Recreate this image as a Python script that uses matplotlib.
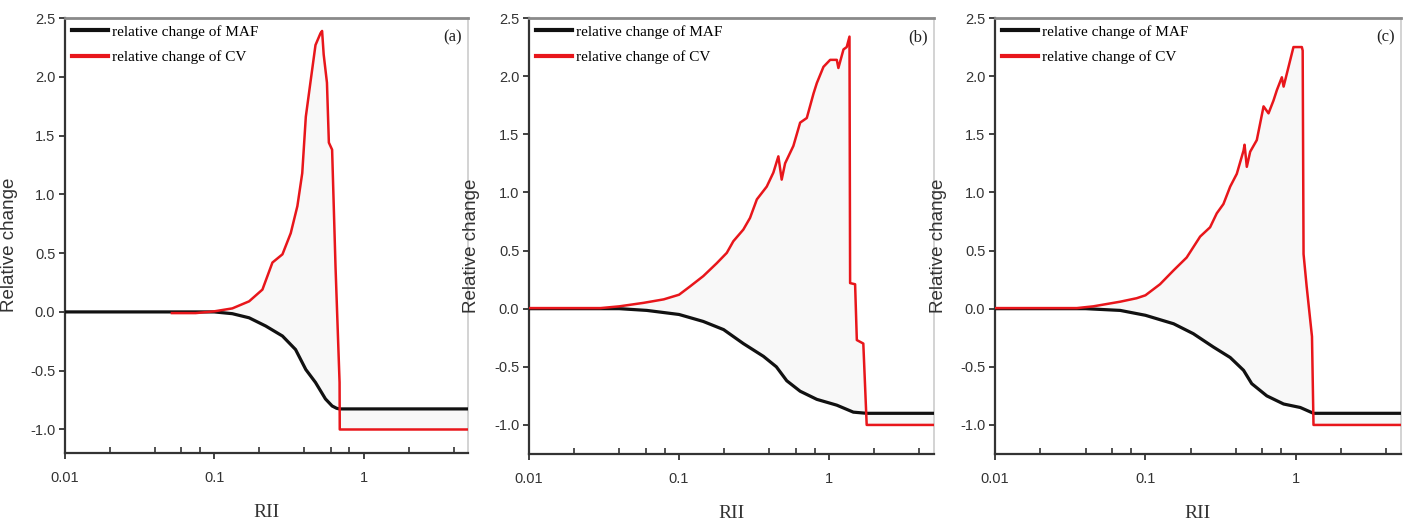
import matplotlib
matplotlib.use("Agg")
import matplotlib.pyplot as plt
from matplotlib.ticker import LogLocator, NullFormatter

# ---------------- data ----------------
panel_labels = ["(a)", "(b)", "(c)"]
series_names = ["relative change of MAF", "relative change of CV"]
x_tick_values = [0.01, 0.1, 1]
x_tick_labels = ["0.01", "0.1", "1"]
y_tick_values = [-1.0, -0.5, 0.0, 0.5, 1.0, 1.5, 2.0, 2.5]
y_tick_labels = ["-1.0", "-0.5", "0.0", "0.5", "1.0", "1.5", "2.0", "2.5"]

# panel (a)
a_maf_x = [0.01, 0.1, 0.132, 0.171, 0.221, 0.286, 0.35, 0.41, 0.476, 0.555, 0.615, 0.66, 0.69, 5.0]
a_maf_y = [0.0, 0.0, -0.015, -0.05, -0.12, -0.205, -0.32, -0.49, -0.60, -0.74, -0.80, -0.82, -0.825, -0.825]
a_cv_x = [0.052, 0.075, 0.1, 0.132, 0.171, 0.21, 0.245, 0.286, 0.325, 0.36, 0.388, 0.41, 0.44,
          0.476, 0.514, 0.527, 0.54, 0.568, 0.585, 0.615, 0.648, 0.69, 0.692, 5.0]
a_cv_y = [-0.01, -0.01, 0.005, 0.03, 0.09, 0.19, 0.42, 0.49, 0.67, 0.90, 1.18, 1.66, 1.95,
          2.27, 2.37, 2.39, 2.19, 1.95, 1.44, 1.38, 0.39, -0.60, -1.0, -1.0]

# panel (b)
b_maf_x = [0.01, 0.04, 0.061, 0.1, 0.145, 0.198, 0.268, 0.365, 0.445, 0.522, 0.641, 0.828,
           1.125, 1.45, 1.78, 5.0]
b_maf_y = [0.0, 0.0, -0.015, -0.05, -0.11, -0.18, -0.30, -0.41, -0.50, -0.62, -0.71, -0.78,
           -0.83, -0.89, -0.90, -0.90]
b_cv_x = [0.01, 0.03, 0.04, 0.058, 0.079, 0.1, 0.118, 0.145, 0.178, 0.208, 0.23, 0.268, 0.297,
          0.33, 0.384, 0.425, 0.459, 0.483, 0.509, 0.578, 0.641, 0.71, 0.787, 0.828, 0.917,
          1.016, 1.125, 1.153, 1.247, 1.31, 1.367, 1.38, 1.49, 1.53, 1.69, 1.78, 5.0]
b_cv_y = [0.005, 0.005, 0.02, 0.05, 0.08, 0.12, 0.19, 0.28, 0.39, 0.48, 0.58, 0.68, 0.78,
          0.94, 1.05, 1.17, 1.31, 1.11, 1.25, 1.40, 1.60, 1.64, 1.85, 1.94, 2.08,
          2.14, 2.14, 2.07, 2.23, 2.25, 2.34, 0.22, 0.21, -0.27, -0.30, -1.0, -1.0]

# panel (c)
c_maf_x = [0.01, 0.04, 0.068, 0.1, 0.154, 0.208, 0.283, 0.366, 0.449, 0.509, 0.641, 0.829,
           1.07, 1.31, 5.0]
c_maf_y = [0.0, 0.0, -0.015, -0.057, -0.13, -0.215, -0.33, -0.42, -0.53, -0.645, -0.75, -0.82,
           -0.85, -0.90, -0.90]
c_cv_x = [0.01, 0.035, 0.045, 0.068, 0.0875, 0.1, 0.125, 0.154, 0.188, 0.231, 0.269, 0.298,
          0.33, 0.366, 0.405, 0.449, 0.456, 0.472, 0.497, 0.55, 0.61, 0.658, 0.71, 0.748,
          0.807, 0.829, 0.894, 0.964, 1.096, 1.11, 1.125, 1.18, 1.28, 1.31, 5.0]
c_cv_y = [0.005, 0.005, 0.02, 0.06, 0.09, 0.115, 0.21, 0.33, 0.44, 0.62, 0.70, 0.82,
          0.90, 1.05, 1.16, 1.36, 1.41, 1.22, 1.35, 1.45, 1.74, 1.68, 1.79, 1.88,
          1.99, 1.91, 2.08, 2.25, 2.25, 2.22, 0.47, 0.19, -0.24, -1.0, -1.0]

panels = [
    (a_maf_x, a_maf_y, a_cv_x, a_cv_y, (-1.2, 2.5)),
    (b_maf_x, b_maf_y, b_cv_x, b_cv_y, (-1.25, 2.5)),
    (c_maf_x, c_maf_y, c_cv_x, c_cv_y, (-1.25, 2.5)),
]

# ---------------- layout ----------------
W, H = 1409, 531
fig = plt.figure(figsize=(W / 100, H / 100), dpi=100)
boxes = [(65, 18, 468, 453), (529, 18, 934, 454), (995, 18, 1401, 454)]
ylabel_x = [-0.117, -0.121, -0.118]

tick_font = ["Liberation Sans Narrow", "Liberation Sans", "DejaVu Sans"]
serif_font = ["Liberation Serif", "DejaVu Serif"]
sans_font = ["Liberation Sans", "DejaVu Sans"]

for i, (mx, my, cx, cy, ylim) in enumerate(panels):
    l, t, r, b = boxes[i]
    ax = fig.add_axes([l / W, 1 - b / H, (r - l) / W, (b - t) / H])
    ax.set_xscale("log")
    ax.set_xlim(0.01, 5.0)
    ax.set_ylim(*ylim)

    # faint shading between the two curves
    poly_x = list(cx) + list(mx[::-1])
    poly_y = list(cy) + list(my[::-1])
    ax.fill(poly_x, poly_y, color="#f8f8f8", zorder=0, lw=0)

    ax.plot(mx, my, color="#111111", lw=2.3, label=series_names[0], zorder=3)
    ax.plot(cx, cy, color="#e8161b", lw=1.8, label=series_names[1], zorder=4)

    leg = ax.legend(loc="upper left", frameon=False, handlelength=2.35, handletextpad=0.25,
                    borderaxespad=0.0, borderpad=0.45, labelspacing=0.75,
                    prop={"family": serif_font, "size": 11})
    for line in leg.get_lines():
        line.set_linewidth(3)

    ax.text(0.985, 0.955, panel_labels[i], transform=ax.transAxes, ha="right", va="center",
            fontsize=12, family=serif_font, color="#222222")

    ax.set_xticks(x_tick_values)
    ax.set_xticklabels(x_tick_labels)
    ax.xaxis.set_minor_locator(LogLocator(base=10, subs=[2, 4, 6, 8]))
    ax.xaxis.set_minor_formatter(NullFormatter())
    ax.set_yticks(y_tick_values)
    ax.set_yticklabels(y_tick_labels)

    ax.tick_params(axis="both", which="major", direction="out", length=4, width=1.3,
                   colors="#333333", labelsize=10.5)
    ax.tick_params(axis="x", which="major", pad=9)
    ax.tick_params(axis="y", which="major", pad=3)
    ax.tick_params(axis="x", which="minor", direction="in", length=4, width=1.2, colors="#333333")
    for lab in ax.get_xticklabels() + ax.get_yticklabels():
        lab.set_family(tick_font)
        lab.set_color("#333333")

    for side in ("left", "bottom"):
        ax.spines[side].set_color("#333333")
        ax.spines[side].set_linewidth(1.6)
    ax.spines["top"].set_color("#8a8a8a")
    ax.spines["top"].set_linewidth(2.0)
    ax.spines["right"].set_color("#cccccc")
    ax.spines["right"].set_linewidth(1.2)

    ax.set_ylabel("Relative change", family=sans_font, fontsize=13.5, color="#333333")
    ax.yaxis.set_label_coords(ylabel_x[i], 0.478)
    ax.set_xlabel("RII", family=serif_font, fontsize=14, color="#333333")
    ax.xaxis.set_label_coords(0.5, -0.118)

fig.savefig("out.png", dpi=100)
